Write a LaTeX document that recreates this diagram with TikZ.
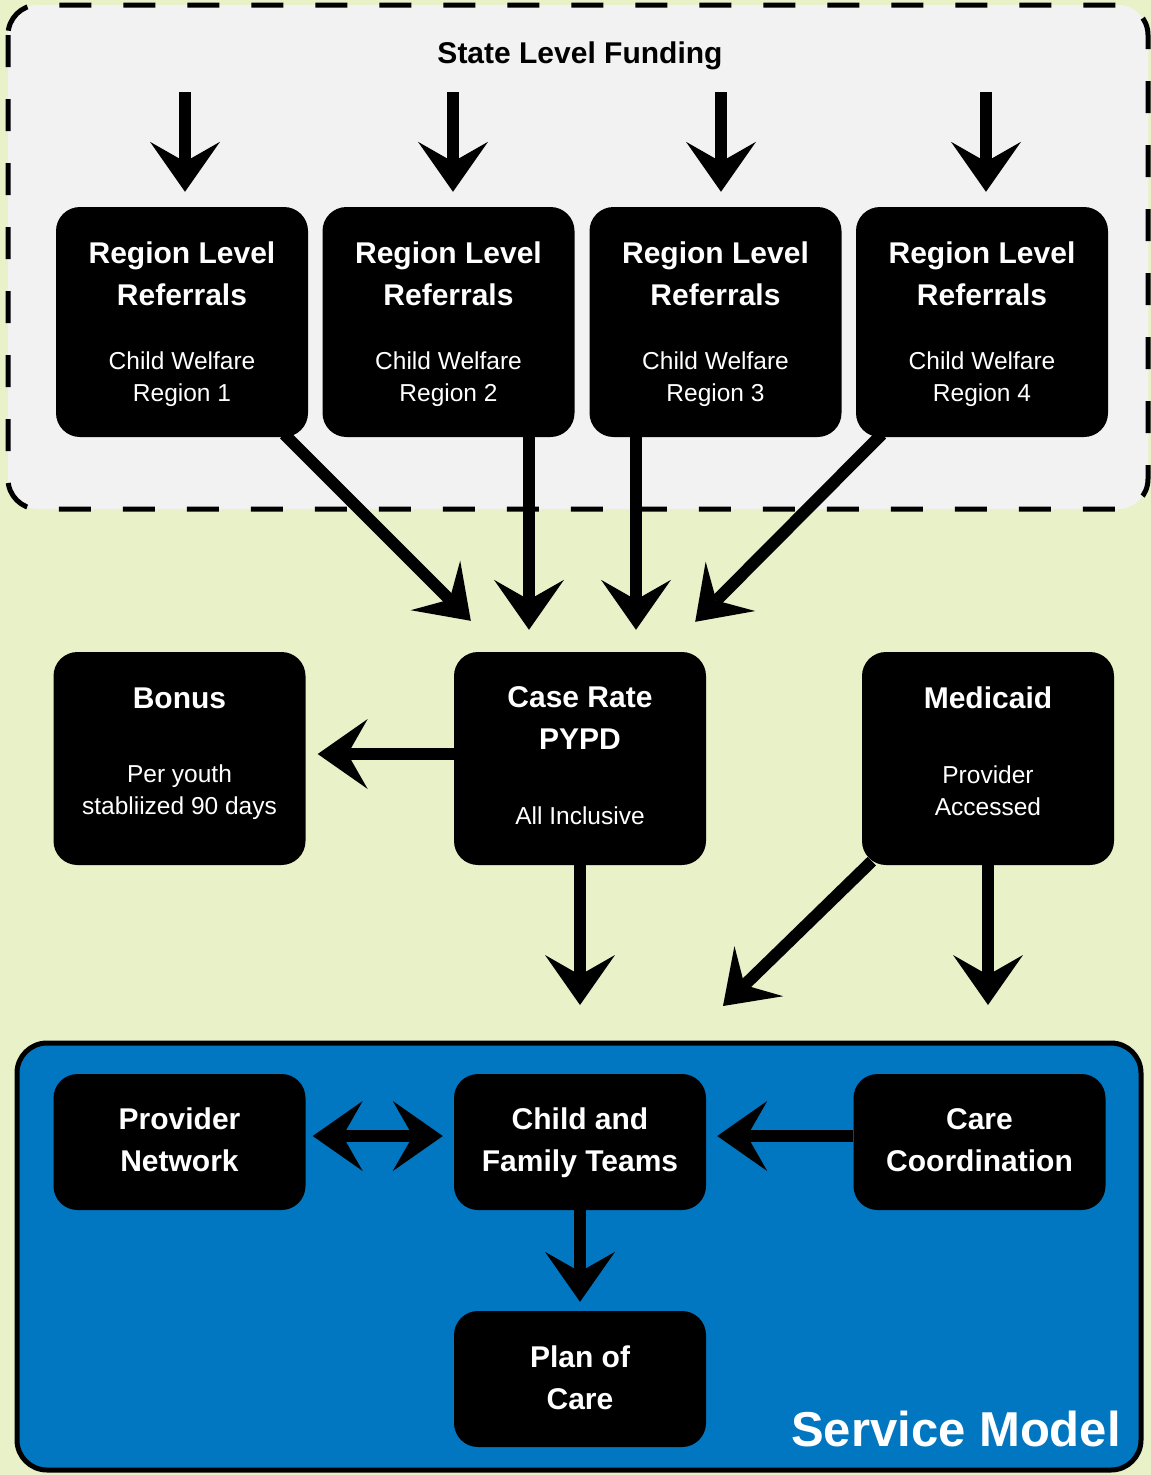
\documentclass[tikz,border=0pt]{standalone}
\usepackage{fontspec}
\setmainfont{Liberation Sans}
\usetikzlibrary{arrows.meta}
\definecolor{bggreen}{RGB}{233,241,201}
\definecolor{panelgray}{RGB}{242,242,242}
\definecolor{svcblue}{RGB}{0,119,192}
\tikzset{
  box/.style={fill=black, rounded corners=24pt, inner sep=0pt, minimum width=252pt},
  tallbox/.style={box, minimum height=230pt},
  midbox/.style={box, minimum height=213pt},
  lowbox/.style={box, minimum height=136pt},
  head/.style={text=white, font=\fontsize{30}{42}\selectfont\bfseries, align=center, inner sep=0pt},
  sub/.style={text=white, font=\fontsize{24.5}{32}\selectfont, align=center, inner sep=0pt},
  flow/.style={line width=12pt, -{Stealth[length=50pt, width=70pt, inset=20pt, line width=0pt]}},
  both/.style={line width=12pt, {Stealth[length=50pt, width=70pt, inset=20pt, line width=0pt]}-{Stealth[length=50pt, width=70pt, inset=20pt, line width=0pt]}},
}
\begin{document}
\begin{tikzpicture}[x=1pt, y=-1pt]
  % page and background
  \useasboundingbox (0,0) rectangle (1151,1475);
  \fill[bggreen] (0,0) rectangle (1151,1475);

  % state level panel
  \draw[fill=panelgray, line width=5pt, dash pattern=on 32pt off 32pt, rounded corners=30pt]
    (8,5) rectangle (1148,509);
  \node[font=\fontsize{30}{36}\selectfont\bfseries, inner sep=0pt] (state) at (580,56) {State Level Funding};

  % region boxes
  \node[tallbox] (r1) at (182,322) {};
  \node[tallbox] (r2) at (448.5,322) {};
  \node[tallbox] (r3) at (715.5,322) {};
  \node[tallbox] (r4) at (982,322) {};
  \foreach \n/\x in {1/182, 2/448.5, 3/715.5, 4/982}{
    \node[head] (r\n h) at (\x,274) {Region Level\\Referrals};
    \node[sub]  (r\n s) at (\x,379) {Child Welfare\\Region \n};
  }

  % funding arrows into regions
  \coordinate (f1) at (185,92);
  \coordinate (f2) at (453,92);
  \coordinate (f3) at (721,92);
  \coordinate (f4) at (986,92);
  \foreach \n in {1,...,4}{
    \draw[flow, shorten >=15pt] (f\n) -- (f\n |- r\n.north);
  }

  % middle row
  \node[midbox] (bonus) at (179.5,758.5) {};
  \node[head] (bonush) at (179.5,698) {Bonus};
  \node[sub]  (bonuss) at (179.5,792) {Per youth\\stabliized 90 days};

  \node[midbox] (cr) at (580,758.5) {};
  \node[head] (crh) at (580,718) {Case Rate\\PYPD};
  \node[sub]  (crs) at (580,816) {All Inclusive};

  \node[midbox] (med) at (988,758.5) {};
  \node[head] (medh) at (988,698) {Medicaid};
  \node[sub]  (meds) at (988,791) {Provider\\Accessed};

  % referrals into the case rate
  \draw[flow] ([shift={(-24,-3)}]r1.south east) -- ([shift={(17,-31)}]cr.north west);
  \draw[flow, shorten >=22pt] ([xshift=80.5pt]r2.south) -- ([xshift=80.5pt]r2.south |- cr.north);
  \draw[flow, shorten >=22pt] ([xshift=-79.5pt]r3.south) -- ([xshift=-79.5pt]r3.south |- cr.north);
  \draw[flow] ([shift={(26,-3)}]r4.south west) -- ([shift={(-11,-30)}]cr.north east);

  % case rate to bonus
  \draw[flow, shorten >=12pt] ([yshift=4.5pt]cr.west) -- ([yshift=4.5pt]cr.west -| bonus.east);

  % service model panel
  \node[fill=svcblue, draw=black, line width=5pt, rounded corners=30pt,
        minimum width=1124pt, minimum height=427pt, inner sep=0pt] (svc) at (579,1256.5) {};
  \node[text=white, font=\fontsize{49}{56}\selectfont\bfseries, anchor=east, inner sep=0pt]
    (svclabel) at (1121,1429) {Service Model};

  % arrows into the service model
  \coordinate (crin) at (580,1005);
  \coordinate (medin) at (723,1006);
  \coordinate (medin2) at (988,1005);
  \draw[flow] (cr.south) -- (crin);
  \draw[flow] ([shift={(10,-4)}]med.south west) -- (medin);
  \draw[flow] (med.south) -- (medin2);

  % service model boxes
  \node[lowbox] (pn) at (179.5,1142) {};
  \node[head] (pnh) at (179.5,1140) {Provider\\Network};
  \node[lowbox] (cft) at (580,1142) {};
  \node[head] (cfth) at (580,1143) {Child and\\Family Teams};
  \node[lowbox] (cc) at (979.5,1142) {};
  \node[head] (cch) at (979.5,1140) {Care\\Coordination};
  \node[lowbox] (poc) at (580,1379) {};
  \node[head] (poch) at (580,1378) {Plan of\\Care};

  \draw[both, shorten <=7pt, shorten >=11pt] ([yshift=6pt]pn.east) -- ([yshift=6pt]pn.east -| cft.west);
  \draw[flow, shorten >=11pt] ([yshift=6pt]cc.west) -- ([yshift=6pt]cc.west -| cft.east);
  \draw[flow, shorten >=9pt] (cft.south) -- (poc.north);
\end{tikzpicture}
\end{document}
